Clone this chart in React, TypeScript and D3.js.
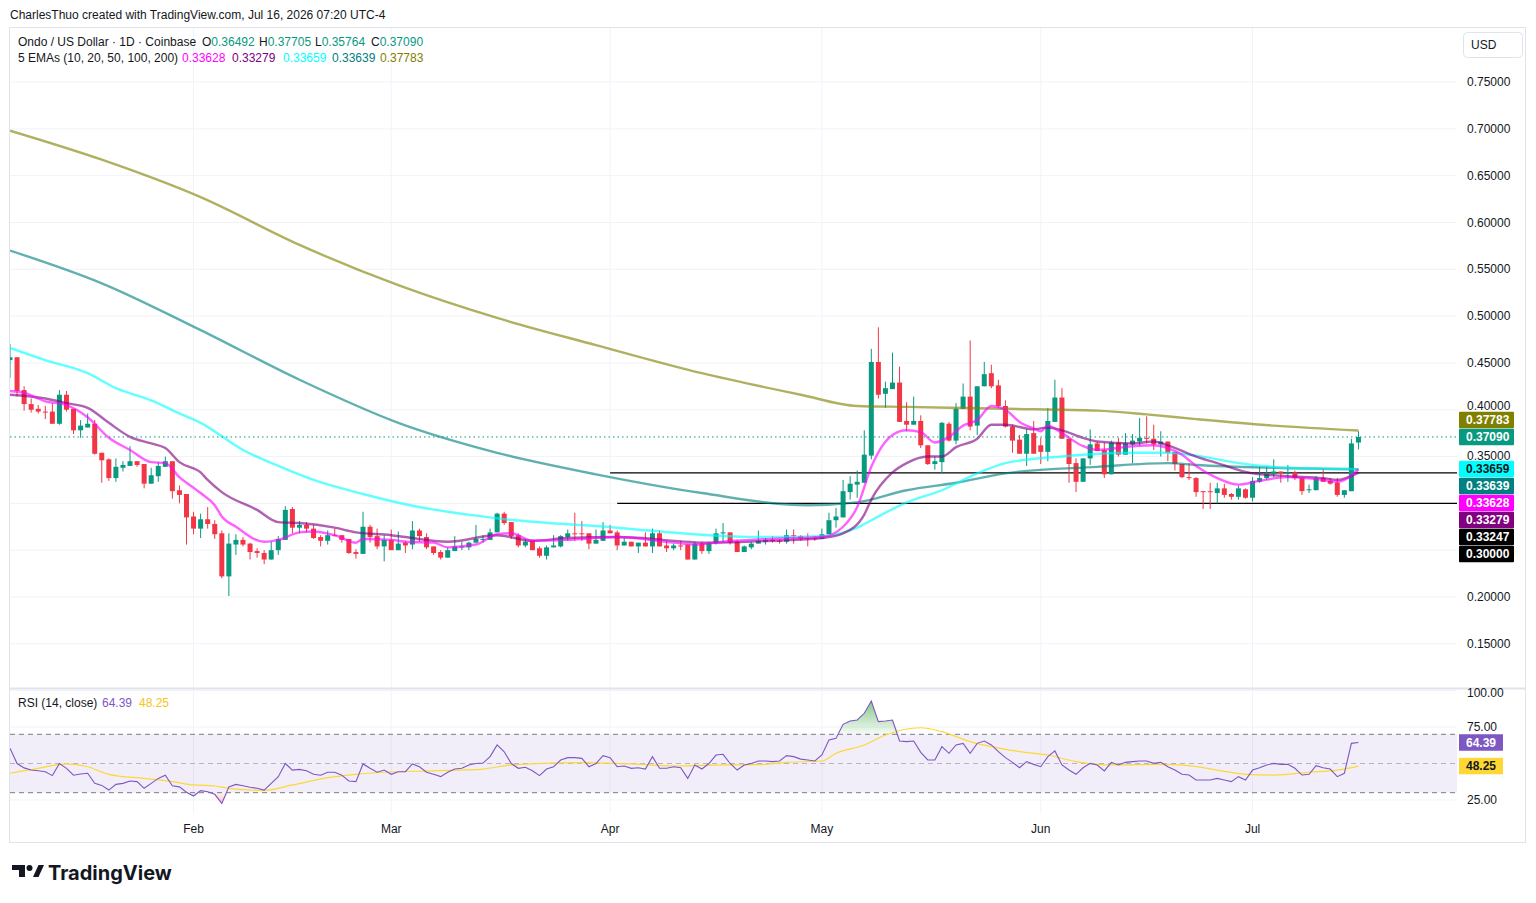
import React, { useEffect } from 'react';
import * as d3 from 'd3';

const START_DATE = '2026-01-06';

const opens = [
  0.453,0.456,0.421,0.406,0.401,0.398,0.398,0.385,0.416,0.401,
  0.378,0.381,0.385,0.354,0.347,0.327,0.338,0.340,0.345,0.342,
  0.321,0.329,0.339,0.345,0.314,0.310,0.286,0.273,0.283,0.278,
  0.268,0.222,0.256,0.261,0.257,0.249,0.247,0.240,0.250,0.261,
  0.294,0.274,0.277,0.273,0.264,0.260,0.266,0.266,0.262,0.248,
  0.246,0.275,0.265,0.254,0.261,0.250,0.258,0.256,0.271,0.264,
  0.254,0.248,0.242,0.249,0.253,0.253,0.258,0.261,0.261,0.269,
  0.289,0.280,0.266,0.255,0.260,0.252,0.244,0.253,0.254,0.264,
  0.268,0.268,0.268,0.257,0.260,0.271,0.269,0.255,0.259,0.254,
  0.258,0.254,0.268,0.255,0.252,0.255,0.256,0.240,0.257,0.249,
  0.258,0.268,0.269,0.259,0.248,0.253,0.257,0.259,0.261,0.260,
  0.259,0.266,0.265,0.263,0.263,0.262,0.267,0.282,0.285,0.312,
  0.320,0.322,0.351,0.451,0.417,0.422,0.429,0.388,0.384,0.388,
  0.362,0.342,0.344,0.385,0.367,0.401,0.414,0.383,0.425,0.439,
  0.426,0.404,0.382,0.368,0.353,0.375,0.362,0.355,0.387,0.413,
  0.369,0.343,0.323,0.348,0.364,0.357,0.331,0.365,0.352,0.363,
  0.366,0.370,0.369,0.363,0.366,0.355,0.342,0.328,0.327,0.313,
  0.313,0.311,0.316,0.310,0.307,0.315,0.306,0.323,0.327,0.331,
  0.334,0.332,0.333,0.327,0.314,0.314,0.327,0.324,0.322,0.309,
  0.313,0.36492,
];
const highs = [
  0.470,0.456,0.425,0.412,0.405,0.404,0.407,0.421,0.420,0.401,
  0.389,0.396,0.389,0.354,0.348,0.348,0.345,0.361,0.345,0.342,
  0.338,0.344,0.350,0.345,0.319,0.310,0.291,0.289,0.296,0.282,
  0.271,0.268,0.267,0.264,0.258,0.252,0.250,0.259,0.265,0.297,
  0.296,0.281,0.280,0.277,0.266,0.271,0.273,0.266,0.262,0.251,
  0.291,0.277,0.273,0.266,0.272,0.270,0.260,0.281,0.273,0.268,
  0.254,0.250,0.253,0.265,0.259,0.259,0.277,0.266,0.273,0.290,
  0.291,0.280,0.268,0.262,0.260,0.254,0.255,0.266,0.266,0.272,
  0.290,0.281,0.268,0.272,0.280,0.277,0.271,0.263,0.259,0.258,
  0.269,0.273,0.271,0.260,0.257,0.260,0.256,0.259,0.259,0.259,
  0.273,0.279,0.269,0.261,0.255,0.259,0.271,0.263,0.265,0.262,
  0.272,0.272,0.266,0.268,0.265,0.273,0.290,0.295,0.325,0.329,
  0.335,0.378,0.465,0.488,0.430,0.461,0.446,0.408,0.414,0.394,
  0.362,0.350,0.387,0.387,0.407,0.428,0.474,0.425,0.451,0.448,
  0.432,0.410,0.384,0.373,0.379,0.388,0.370,0.402,0.432,0.423,
  0.369,0.348,0.348,0.379,0.366,0.365,0.367,0.370,0.375,0.374,
  0.391,0.393,0.384,0.377,0.366,0.355,0.342,0.343,0.328,0.313,
  0.322,0.322,0.321,0.311,0.319,0.316,0.328,0.339,0.339,0.347,
  0.334,0.341,0.335,0.328,0.320,0.329,0.337,0.327,0.327,0.314,
  0.369,0.37705,
];
const lows = [
  0.434,0.414,0.399,0.397,0.396,0.390,0.385,0.384,0.398,0.374,
  0.370,0.381,0.352,0.322,0.324,0.323,0.334,0.340,0.339,0.316,
  0.321,0.323,0.339,0.305,0.300,0.256,0.267,0.263,0.273,0.262,
  0.220,0.201,0.245,0.254,0.240,0.242,0.235,0.240,0.245,0.261,
  0.268,0.268,0.269,0.262,0.254,0.256,0.265,0.258,0.246,0.241,
  0.246,0.258,0.251,0.238,0.250,0.250,0.247,0.251,0.259,0.251,
  0.245,0.240,0.242,0.249,0.250,0.250,0.258,0.258,0.261,0.269,
  0.277,0.262,0.253,0.253,0.250,0.242,0.240,0.253,0.253,0.260,
  0.260,0.260,0.251,0.257,0.260,0.268,0.250,0.255,0.254,0.247,
  0.254,0.247,0.254,0.248,0.250,0.250,0.240,0.240,0.246,0.246,
  0.256,0.258,0.256,0.248,0.248,0.251,0.257,0.256,0.258,0.257,
  0.257,0.257,0.260,0.254,0.260,0.262,0.267,0.274,0.285,0.304,
  0.306,0.322,0.347,0.412,0.402,0.422,0.387,0.377,0.384,0.359,
  0.341,0.336,0.332,0.366,0.363,0.401,0.378,0.373,0.425,0.423,
  0.402,0.381,0.354,0.353,0.340,0.353,0.342,0.345,0.387,0.369,
  0.322,0.312,0.323,0.341,0.356,0.327,0.331,0.350,0.352,0.343,
  0.361,0.364,0.357,0.350,0.345,0.335,0.327,0.325,0.307,0.294,
  0.294,0.300,0.306,0.304,0.304,0.305,0.302,0.322,0.325,0.328,
  0.322,0.323,0.325,0.309,0.311,0.314,0.323,0.320,0.307,0.306,
  0.313,0.35764,
];
const closes = [
  0.456,0.420,0.406,0.400,0.398,0.397,0.385,0.416,0.400,0.378,
  0.383,0.385,0.353,0.346,0.327,0.339,0.341,0.345,0.341,0.321,
  0.330,0.340,0.345,0.313,0.309,0.285,0.273,0.283,0.278,0.267,
  0.222,0.257,0.261,0.256,0.248,0.247,0.240,0.250,0.262,0.293,
  0.274,0.277,0.273,0.263,0.260,0.266,0.265,0.261,0.247,0.246,
  0.275,0.264,0.254,0.261,0.250,0.257,0.255,0.271,0.265,0.253,
  0.247,0.242,0.250,0.254,0.254,0.258,0.262,0.262,0.269,0.289,
  0.279,0.265,0.255,0.259,0.250,0.244,0.253,0.255,0.265,0.268,
  0.267,0.267,0.257,0.261,0.271,0.268,0.255,0.259,0.254,0.258,
  0.254,0.268,0.254,0.252,0.255,0.254,0.240,0.257,0.249,0.257,
  0.268,0.269,0.258,0.248,0.254,0.257,0.260,0.261,0.260,0.259,
  0.266,0.265,0.262,0.262,0.262,0.267,0.282,0.286,0.313,0.321,
  0.323,0.352,0.451,0.416,0.423,0.429,0.387,0.384,0.388,0.362,
  0.342,0.345,0.386,0.367,0.401,0.414,0.382,0.425,0.438,0.425,
  0.404,0.382,0.367,0.353,0.374,0.353,0.355,0.388,0.413,0.369,
  0.342,0.323,0.348,0.363,0.356,0.331,0.365,0.352,0.364,0.367,
  0.370,0.369,0.363,0.366,0.354,0.342,0.328,0.327,0.312,0.312,
  0.312,0.316,0.309,0.307,0.316,0.306,0.324,0.327,0.332,0.334,
  0.332,0.333,0.327,0.313,0.315,0.327,0.323,0.321,0.309,0.314,
  0.364,0.37090,
];

const rsiValues = [
  60.4,50,47,45.5,45,44.4,41.7,50,46.7,42,
  42.8,43.3,36.4,35,31.8,35.7,36.4,38,37.6,33,
  36.4,39.8,42,34.8,34,30.3,27.7,31.4,30.7,28.9,
  22.7,34,35.7,34.8,33.7,33,31.8,36.4,41,50,
  45.5,46,45,42.6,42,44,44,42,38,37.6,
  49.7,46.7,44,45.5,42.6,44.4,44.4,49.7,47.8,44,
  42.6,41,44,46.2,46.7,49,50,50.3,54.7,62.7,
  58,50,46.7,47.4,45,41.7,46.2,47.8,52.4,54,
  54,53.5,47.8,50,55.4,54,47.8,48.3,46.7,47.1,
  46.2,54.7,46.7,46.7,47.8,47.1,39.8,49,46.2,50,
  55.8,56.3,50,45.5,49,50,51.7,51.7,51.3,51.7,
  55.4,54.7,53,52.4,51.7,55.8,66.1,67.2,76.8,79.1,
  79.8,84.4,92.8,78.7,79.1,79.8,65.4,65,65.4,57.6,
  52.4,52.4,61.5,57,62.7,63.8,57,63.8,65.4,62.7,
  58.1,54,50.8,47.1,51.3,49.4,47.8,54.7,58.6,49,
  45.5,42.6,47.1,50.1,49,44.9,50.8,49,50.8,51.3,
  51.7,51.7,50.1,50.8,47.8,45.5,42.6,42.1,38.7,38.7,
  38.7,39.8,38.7,37.6,41,38.7,45.5,47.1,49,50.1,
  49.4,49.4,46.7,42.1,42.6,48.5,47.1,46.2,41,43.3,
  63.8,64.39,
];

// [day offset from start, value]
const rsiMa = [
  [0,43.3],[4,46.7],[8,49.7],[11,47.8],[14,42.6],[19,39.8],[23,37.6],[26,35.3],[29,34.6],[31,33],
  [36,31.6],[40,35.3],[45,40.3],[49,42.6],[53,44],[60,45],[67,46.2],[71,49],[81,50.6],[88,49.7],
  [94,48.3],[101,49],[106,49.2],[110,50.8],[115,51.7],[117,57],[121,62.7],[124,69.5],[129,74.5],[132,71.8],
  [136,65],[139,61.5],[143,58.1],[147,55.8],[151,51.3],[156,49],[163,49.4],[167,48.5],[171,45.5],[175,42.6],
  [179,42.1],[184,44],[188,45.5],[191,48.25],
];

const ema10 = [
  [0,0.420],[2,0.418],[5,0.409],[8,0.405],[11,0.392],[14,0.370],[17,0.357],[20,0.344],[22,0.343],[24,0.328],
  [27,0.311],[29,0.298],[30,0.286],[32,0.275],[36,0.259],[38,0.261],[41,0.269],[43,0.270],[46,0.266],[49,0.258],
  [50,0.262],[54,0.261],[56,0.259],[60,0.258],[62,0.253],[66,0.256],[69,0.267],[71,0.268],[74,0.260],[79,0.261],
  [86,0.264],[94,0.258],[97,0.256],[101,0.259],[108,0.262],[115,0.264],[118,0.275],[120,0.296],[122,0.339],[125,0.373],
  [127,0.378],[129,0.376],[131,0.365],[133,0.371],[135,0.383],[137,0.389],[139,0.404],[141,0.400],[143,0.387],[145,0.380],
  [146,0.377],[147,0.383],[149,0.375],[152,0.361],[154,0.357],[159,0.361],[162,0.362],[164,0.359],[166,0.352],[168,0.340],
  [171,0.327],[174,0.320],[177,0.324],[181,0.328],[186,0.325],[188,0.323],[191,0.33628],
];
const ema20 = [
  [0,0.416],[5,0.412],[8,0.407],[11,0.402],[14,0.386],[17,0.371],[20,0.364],[22,0.359],[24,0.344],[27,0.333],
  [28,0.325],[30,0.312],[35,0.293],[38,0.280],[41,0.279],[46,0.274],[49,0.269],[54,0.266],[56,0.264],[62,0.259],
  [69,0.266],[74,0.260],[79,0.263],[86,0.264],[99,0.258],[108,0.260],[115,0.263],[118,0.268],[121,0.288],[122,0.304],
  [125,0.333],[127,0.343],[130,0.350],[132,0.350],[134,0.360],[137,0.369],[139,0.384],[141,0.384],[145,0.379],[147,0.381],
  [149,0.378],[152,0.370],[154,0.366],[159,0.364],[162,0.366],[164,0.362],[168,0.350],[171,0.343],[176,0.332],[181,0.329],
  [186,0.327],[188,0.325],[191,0.33279],
];
const ema50 = [
  [0,0.466],[5,0.453],[11,0.439],[15,0.423],[20,0.410],[24,0.396],[27,0.386],[33,0.357],[38,0.340],[43,0.325],
  [50,0.310],[56,0.299],[69,0.284],[86,0.274],[99,0.266],[106,0.264],[115,0.265],[120,0.274],[122,0.282],[127,0.301],
  [132,0.314],[137,0.332],[141,0.343],[149,0.350],[159,0.354],[164,0.354],[168,0.351],[174,0.343],[181,0.338],[191,0.33659],
];
const ema100 = [
  [0,0.570],[13,0.535],[27,0.485],[41,0.432],[55,0.386],[69,0.354],[83,0.331],[98,0.311],[113,0.298],[120,0.301],
  [127,0.314],[134,0.322],[141,0.332],[154,0.339],[164,0.343],[168,0.341],[179,0.338],[191,0.33639],
];
const ema200 = [
  [0,0.698],[13,0.667],[27,0.627],[41,0.576],[55,0.533],[69,0.498],[83,0.469],[98,0.439],[112,0.416],[120,0.404],
  [127,0.403],[141,0.401],[154,0.399],[161,0.395],[168,0.390],[179,0.383],[191,0.37783],
];

const priceTicks = [0.15,0.2,0.25,0.3,0.35,0.4,0.45,0.5,0.55,0.6,0.65,0.7,0.75];
const rsiTicks = [25, 75, 100];
const monthTicks = ['2026-02-01','2026-03-01','2026-04-01','2026-05-01','2026-06-01','2026-07-01'];
const monthLabels = ['Feb','Mar','Apr','May','Jun','Jul'];
const levelPrices = [0.33247, 0.30000];
const levelStarts = ['2026-04-01','2026-04-02'];
const lastClose = 0.37090;

const UP = '#089981';
const DOWN = '#f23645';
const TEXT = '#131722';
const GRID = '#f0f3fa';
const BORDER = '#e0e3eb';

const PLOT_L = 10, PLOT_R = 1457;
const MAIN_T = 28, MAIN_B = 688;
const RSI_T = 689, RSI_B = 813;
const DAY_PX = 7.06;

type P = number[];

export default function App() {
  useEffect(() => {
    document.body.style.margin = '0';
    document.body.style.overflow = 'hidden';
  }, []);

  const start = new Date(START_DATE + 'T00:00:00Z');
  const dates = opens.map((_, i) => d3.utcDay.offset(start, i));
  const spanDays = (PLOT_R - PLOT_L) / DAY_PX;
  const x = d3.scaleUtc()
    .domain([start, new Date(start.getTime() + spanDays * 86400000)])
    .range([PLOT_L, PLOT_R]);
  const y = d3.scaleLinear().domain([0.15, 0.75]).range([643.8, 82]);
  const ry = d3.scaleLinear().domain([25, 75]).range([800, 727]);
  const dayX = (d: number) => x(d3.utcDay.offset(start, d));

  const emaLine = d3.line<P>().x(d => dayX(d[0])).y(d => y(d[1])).curve(d3.curveMonotoneX);
  const rsiLine = d3.line<number>().x((_, i) => x(dates[i])).y(d => ry(d));
  const maLine = d3.line<P>().x(d => dayX(d[0])).y(d => ry(d[1])).curve(d3.curveMonotoneX);
  const overArea = d3.area<number>().x((_, i) => x(dates[i])).y0(ry(70)).y1(d => ry(Math.max(d, 70)));
  const underArea = d3.area<number>().x((_, i) => x(dates[i])).y0(ry(30)).y1(d => ry(Math.min(d, 30)));

  const emas = [
    { data: ema200, color: '#808000' },
    { data: ema100, color: '#008080' },
    { data: ema50, color: '#00ffff' },
    { data: ema20, color: '#800080' },
    { data: ema10, color: '#ff00ff' },
  ];

  const TAG_H = 16.5;
  const TAG_STEP = 17;
  const g1 = y(lastClose);
  const g2 = y(0.33659);
  const tags = [
    { v: '0.37783', cy: g1 - TAG_STEP, bg: '#808000', fg: '#fff' },
    { v: '0.37090', cy: g1, bg: UP, fg: '#fff' },
    { v: '0.33659', cy: g2, bg: '#00ffff', fg: TEXT },
    { v: '0.33639', cy: g2 + TAG_STEP, bg: '#008080', fg: '#fff' },
    { v: '0.33628', cy: g2 + TAG_STEP * 2, bg: '#ff00ff', fg: '#fff' },
    { v: '0.33279', cy: g2 + TAG_STEP * 3, bg: '#800080', fg: '#fff' },
    { v: '0.33247', cy: g2 + TAG_STEP * 4, bg: '#000000', fg: '#fff' },
    { v: '0.30000', cy: g2 + TAG_STEP * 5, bg: '#000000', fg: '#fff' },
  ];

  // axis labels: hide those fully under a tag, nudge partially covered ones
  const axisLabels = priceTicks.map(p => {
    let ly = y(p);
    let hidden = false;
    tags.forEach(t => {
      const top = t.cy - TAG_H / 2, bot = t.cy + TAG_H / 2;
      if (ly >= top - 1 && ly <= bot + 1) hidden = true;
      else if (ly + 5.5 > top && ly < top) ly = top - 5.5;
      else if (ly - 5.5 < bot && ly > bot) ly = bot + 5.5;
    });
    return { p, ly, hidden };
  });

  const lastRsi = rsiValues[rsiValues.length - 1];
  const lastMa = rsiMa[rsiMa.length - 1][1];

  return (
    <svg width={1536} height={903} style={{ position: 'absolute', left: 0, top: 0, display: 'block', background: '#fff' }}
      fontFamily="'Liberation Sans', Arial, sans-serif">
      <defs>
        <clipPath id="mainClip"><rect x={PLOT_L} y={MAIN_T} width={PLOT_R - PLOT_L} height={MAIN_B - MAIN_T} /></clipPath>
        <clipPath id="rsiClip"><rect x={PLOT_L} y={RSI_T} width={PLOT_R - PLOT_L} height={RSI_B - RSI_T} /></clipPath>
        <linearGradient id="overGrad" gradientUnits="userSpaceOnUse" x1="0" x2="0" y1={ry(95)} y2={ry(70)}>
          <stop offset="0" stopColor="#4caf50" stopOpacity="0.75" />
          <stop offset="1" stopColor="#4caf50" stopOpacity="0.05" />
        </linearGradient>
        <linearGradient id="underGrad" gradientUnits="userSpaceOnUse" x1="0" x2="0" y1={ry(30)} y2={ry(15)}>
          <stop offset="0" stopColor="#f23645" stopOpacity="0.05" />
          <stop offset="1" stopColor="#f23645" stopOpacity="0.6" />
        </linearGradient>
      </defs>

      {/* header */}
      <text x={10} y={19} fontSize={12} fill={TEXT}>CharlesThuo created with TradingView.com, Jul 16, 2026 07:20 UTC-4</text>

      {/* frame */}
      <rect x={9.5} y={27.5} width={1516} height={815} fill="none" stroke={BORDER} strokeWidth={1} />

      {/* grid */}
      {priceTicks.map(p => (
        <line key={'pg' + p} x1={PLOT_L} x2={PLOT_R} y1={y(p)} y2={y(p)} stroke={GRID} strokeWidth={1} />
      ))}
      {[100, 75, 25].map(v => (
        <line key={'rg' + v} x1={PLOT_L} x2={PLOT_R} y1={ry(v)} y2={ry(v)} stroke={GRID} strokeWidth={1} />
      ))}
      {monthTicks.map(m => {
        const mx = x(new Date(m + 'T00:00:00Z'));
        return <line key={'vg' + m} x1={mx} x2={mx} y1={MAIN_T} y2={RSI_B} stroke={GRID} strokeWidth={1} />;
      })}

      {/* main pane */}
      <g clipPath="url(#mainClip)">
        {levelPrices.map((p, i) => (
          <line key={'lv' + i} x1={x(new Date(levelStarts[i] + 'T00:00:00Z'))} x2={PLOT_R} y1={y(p)} y2={y(p)} stroke="#000" strokeWidth={1.2} />
        ))}
        {dates.map((dt, i) => {
          const cx = x(dt);
          const o = opens[i], c = closes[i];
          const col = c >= o ? UP : DOWN;
          const yt = y(Math.max(o, c)), yb = y(Math.min(o, c));
          return (
            <g key={'c' + i}>
              <line x1={cx} x2={cx} y1={y(highs[i])} y2={y(lows[i])} stroke={col} strokeWidth={1} />
              <rect x={cx - 2.5} y={yt} width={5} height={Math.max(1, yb - yt)} fill={col} />
            </g>
          );
        })}
        {emas.map((e, i) => (
          <path key={'ema' + i} d={emaLine(e.data as P[]) || ''} fill="none" stroke={e.color} strokeOpacity={0.62} strokeWidth={2.4} strokeLinejoin="round" />
        ))}
        <line x1={PLOT_L} x2={PLOT_R} y1={y(lastClose)} y2={y(lastClose)} stroke={UP} strokeWidth={1} strokeDasharray="1.5 3" />
      </g>

      {/* legend */}
      <text x={18} y={46} fontSize={12} fill={TEXT}>Ondo / US Dollar · 1D · Coinbase</text>
      <text x={202} y={46} fontSize={12} fill={TEXT}>O<tspan fill={UP}>0.36492</tspan></text>
      <text x={259} y={46} fontSize={12} fill={TEXT}>H<tspan fill={UP}>0.37705</tspan></text>
      <text x={315} y={46} fontSize={12} fill={TEXT}>L<tspan fill={UP}>0.35764</tspan></text>
      <text x={371} y={46} fontSize={12} fill={TEXT}>C<tspan fill={UP}>0.37090</tspan></text>
      <text x={18} y={62} fontSize={12} fill={TEXT}>5 EMAs (10, 20, 50, 100, 200)</text>
      <text x={182} y={62} fontSize={12} fill="#ff00ff">0.33628</text>
      <text x={232} y={62} fontSize={12} fill="#800080">0.33279</text>
      <text x={283} y={62} fontSize={12} fill="#00ffff">0.33659</text>
      <text x={332} y={62} fontSize={12} fill="#008080">0.33639</text>
      <text x={380} y={62} fontSize={12} fill="#808000">0.37783</text>

      {/* pane separator */}
      <line x1={PLOT_L} x2={1526} y1={688.5} y2={688.5} stroke={BORDER} strokeWidth={2} />

      {/* RSI pane */}
      <g clipPath="url(#rsiClip)">
        <rect x={PLOT_L} y={ry(70)} width={PLOT_R - PLOT_L} height={ry(30) - ry(70)} fill="#7e57c2" fillOpacity={0.1} />
        <line x1={PLOT_L} x2={PLOT_R} y1={ry(70)} y2={ry(70)} stroke="#787b86" strokeWidth={1} strokeDasharray="5 4" />
        <line x1={PLOT_L} x2={PLOT_R} y1={ry(50)} y2={ry(50)} stroke="#787b86" strokeOpacity={0.5} strokeWidth={1} strokeDasharray="5 4" />
        <line x1={PLOT_L} x2={PLOT_R} y1={ry(30)} y2={ry(30)} stroke="#787b86" strokeWidth={1} strokeDasharray="5 4" />
        <path d={overArea(rsiValues) || ''} fill="url(#overGrad)" />
        <path d={underArea(rsiValues) || ''} fill="url(#underGrad)" />
        <path d={maLine(rsiMa as P[]) || ''} fill="none" stroke="#fdd835" strokeWidth={1.2} />
        <path d={rsiLine(rsiValues) || ''} fill="none" stroke="#7e57c2" strokeWidth={1.1} />
      </g>
      <text x={18} y={707} fontSize={12} fill={TEXT}>RSI (14, close)</text>
      <text x={102} y={707} fontSize={12} fill="#7e57c2">64.39</text>
      <text x={139} y={707} fontSize={12} fill="#f5c518">48.25</text>

      {/* price axis */}
      {axisLabels.filter(a => !a.hidden).map(a => (
        <text key={'pl' + a.p} x={1467} y={a.ly} dy="0.35em" fontSize={12} fill={TEXT}>{a.p.toFixed(5)}</text>
      ))}
      {tags.map(t => (
        <g key={'tag' + t.v}>
          <rect x={1459} y={t.cy - TAG_H / 2} width={55} height={TAG_H} fill={t.bg} rx={1} />
          <text x={1466} y={t.cy} dy="0.36em" fontSize={12} fontWeight={700} fill={t.fg}>{t.v}</text>
        </g>
      ))}
      <rect x={1463.5} y={32.5} width={59} height={25} rx={4} fill="#fff" stroke={BORDER} />
      <text x={1471} y={45} dy="0.35em" fontSize={12} fill={TEXT}>USD</text>

      {/* RSI axis */}
      {rsiTicks.map(v => (
        <text key={'rl' + v} x={1467} y={Math.max(ry(v), 693)} dy="0.35em" fontSize={12} fill={TEXT}>{v.toFixed(2)}</text>
      ))}
      <rect x={1459} y={ry(lastRsi) - TAG_H / 2} width={44} height={TAG_H} fill="#7e57c2" />
      <text x={1466} y={ry(lastRsi)} dy="0.36em" fontSize={12} fontWeight={700} fill="#fff">{lastRsi.toFixed(2)}</text>
      <rect x={1459} y={ry(lastMa) - TAG_H / 2} width={44} height={TAG_H} fill="#fdd835" />
      <text x={1466} y={ry(lastMa)} dy="0.36em" fontSize={12} fontWeight={700} fill={TEXT}>{lastMa.toFixed(2)}</text>

      {/* time axis */}
      {monthTicks.map((m, i) => (
        <text key={'ml' + m} x={x(new Date(m + 'T00:00:00Z'))} y={829} dy="0.35em" textAnchor="middle" fontSize={12} fill={TEXT}>{monthLabels[i]}</text>
      ))}

      {/* TradingView logo */}
      <g fill="#131722">
        <path d="M12 865 H25 V877 H19 V870 H12 Z" />
        <circle cx={29.5} cy={868} r={3} />
        <path d="M33 877 L38.5 865 H44 L38.5 877 Z" />
        <text x={48} y={880} fontSize={20} fontWeight={700} fontFamily="Inter, 'Liberation Sans', sans-serif">TradingView</text>
      </g>
    </svg>
  );
}
